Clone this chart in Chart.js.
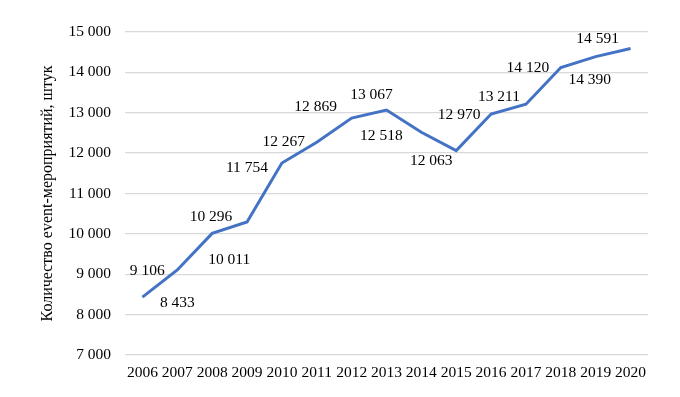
<!DOCTYPE html>
<html>
<head>
<meta charset="utf-8">
<script src="https://cdn.jsdelivr.net/npm/chart.js@4"></script>
<style>
  html, body { margin: 0; padding: 0; background: #fff; }
  #wrap { width: 680px; height: 397px; }
</style>
</head>
<body>
<div id="wrap"><canvas id="lineCanvas" width="680" height="397"></canvas></div>
<script>
// === Données ===
const years = ['2006', '2007', '2008', '2009', '2010', '2011', '2012', '2013',
               '2014', '2015', '2016', '2017', '2018', '2019', '2020'];
const events = [8433, 9106, 10011, 10296, 11754, 12267, 12869, 13067,
                12518, 12063, 12970, 13211, 14120, 14390, 14591];
const yTicks = [7000, 8000, 9000, 10000, 11000, 12000, 13000, 14000, 15000];
const yTitle = 'Количество event-мероприятий, штук';

// décalage des étiquettes (dx, dy) par rapport au point
const labelShift = [
    [35, 6], [-30, 1], [17, 26], [-36, -5], [-35, 5], [-33, 0], [-36, -11], [-15, -15],
    [-40, 4], [-25, 10], [-32, 1], [-27, -7], [-33, 0], [-6, 23], [-33, -10]
];

const FONT = "'Liberation Serif', 'Times New Roman', serif";
const fmt = v => String(v).replace(/\B(?=(\d{3})+(?!\d))/g, ' ');

const valueLabels = {
    id: 'valueLabels',
    afterDatasetsDraw(chart) {
        const ctx = chart.ctx;
        const meta = chart.getDatasetMeta(0);
        ctx.save();
        ctx.font = '15.5px ' + FONT;
        ctx.fillStyle = '#000';
        ctx.textAlign = 'center';
        ctx.textBaseline = 'middle';
        meta.data.forEach((pt, i) => {
            const [dx, dy] = labelShift[i];
            ctx.fillText(fmt(events[i]), pt.x + dx, pt.y + dy);
        });
        ctx.restore();
    }
};

const ctx = document.getElementById('lineCanvas').getContext('2d');
const lineChart = new Chart(ctx, {
    type: 'line',
    data: {
        labels: years,
        datasets: [{
            data: events,
            borderColor: '#4472C4',
            borderWidth: 3,
            pointRadius: 0,
            tension: 0,
            fill: false
        }]
    },
    options: {
        responsive: false,
        animation: false,
        layout: { padding: { top: 32, right: 32, left: 0, bottom: 0 } },
        plugins: {
            legend: { display: false },
            tooltip: { enabled: false }
        },
        scales: {
            x: {
                offset: true,
                grid: { display: false, drawTicks: false, offset: true },
                border: { display: false },
                ticks: {
                    color: '#000',
                    font: { family: FONT, size: 15.5 },
                    padding: 9,
                    autoSkip: false,
                    maxRotation: 0
                },
                afterFit(scale) { scale.height = 42; }
            },
            y: {
                min: 7000,
                max: 15000,
                afterBuildTicks(scale) { scale.ticks = yTicks.map(v => ({ value: v })); },
                grid: { color: '#d9d9d9', lineWidth: 1.3, drawTicks: false },
                border: { display: false },
                ticks: {
                    color: '#000',
                    font: { family: FONT, size: 15.5 },
                    padding: 14,
                    callback: v => fmt(v)
                },
                title: {
                    display: true,
                    text: yTitle,
                    color: '#000',
                    font: { family: FONT, size: 16 },
                    padding: { top: 38, bottom: 0 }
                },
                afterFit(scale) { scale.width = 125; }
            }
        }
    },
    plugins: [valueLabels]
});
</script>
</body>
</html>
